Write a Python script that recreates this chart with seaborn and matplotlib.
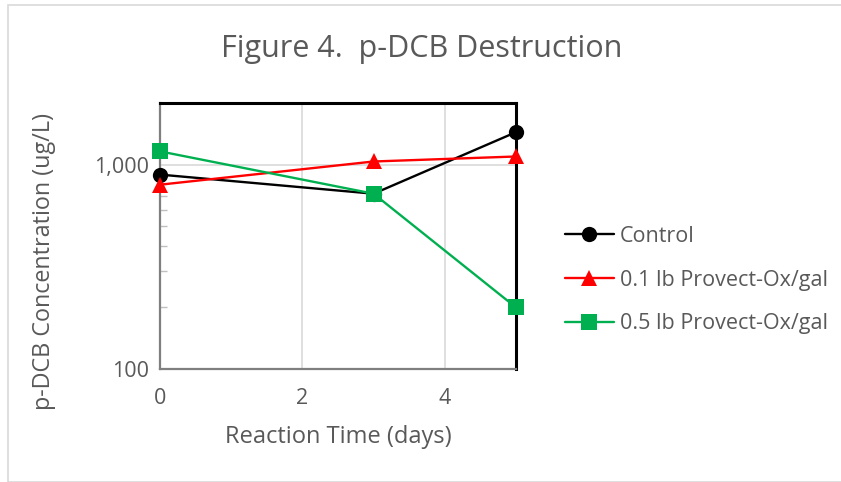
import matplotlib
matplotlib.use("Agg")
import matplotlib.pyplot as plt
import matplotlib.ticker as mticker
from matplotlib.patches import Rectangle
import seaborn as sns
import pandas as pd

days = [0, 3, 5]
control = [893, 720, 1440]
ox_01 = [797, 1035, 1095]
ox_05 = [1160, 720, 200]
series_names = ["Control", "0.1 lb Provect-Ox/gal", "0.5 lb Provect-Ox/gal"]
title = "Figure 4.  p-DCB Destruction"
xlabel = "Reaction Time (days)"
ylabel = "p-DCB Concentration (ug/L)"

df = pd.DataFrame({
    "day": days * 3,
    "conc": control + ox_01 + ox_05,
    "series": [series_names[0]] * 3 + [series_names[1]] * 3 + [series_names[2]] * 3,
})

sns.set_theme(style="white")
plt.rcParams["font.family"] = ["Open Sans", "DejaVu Sans"]
gray = "#595959"

fig = plt.figure(figsize=(8.41, 4.82), dpi=100)
ax = fig.add_axes([160/841, 1-369/482, (516-160)/841, (369-103)/482])

palette = {series_names[0]: "black", series_names[1]: "#FF0000", series_names[2]: "#00B050"}
markers = {series_names[0]: "o", series_names[1]: "^", series_names[2]: "s"}
sns.lineplot(data=df, x="day", y="conc", hue="series", style="series",
             palette=palette, markers=markers, dashes=False, linewidth=1.7,
             markersize=11, markeredgewidth=0, ax=ax, zorder=3, clip_on=False)

ax.set_yscale("log")
ax.set_ylim(100, 2000)
ax.set_xlim(0, 5)
ax.set_xticks([0, 2, 4])
ax.set_yticks([100, 1000])
ax.yaxis.set_major_formatter(mticker.FuncFormatter(lambda v, p: f"{int(v):,}"))
ax.yaxis.set_minor_locator(mticker.LogLocator(base=10, subs=range(2, 10)))
ax.yaxis.set_minor_formatter(mticker.NullFormatter())
ax.tick_params(axis="x", which="major", length=0, labelsize=15.5, labelcolor=gray, pad=14)
ax.tick_params(axis="y", which="major", length=0, labelsize=15.5, labelcolor=gray, pad=8)
ax.tick_params(axis="y", which="minor", direction="in", length=5, width=1, color="#BFBFBF", left=True)
ax.grid(True, axis="x", which="major", color="#D9D9D9", linewidth=1.2)
ax.grid(True, axis="y", which="major", color="#D9D9D9", linewidth=1.2)

for s in ["left", "bottom"]:
    ax.spines[s].set_color("#7F7F7F")
    ax.spines[s].set_linewidth(1.6)
for s in ["top", "right"]:
    ax.spines[s].set_color("black")
    ax.spines[s].set_linewidth(2.2)

ax.set_xlabel("")
ax.set_ylabel("")
fig.text(338/841, 1-437/482, xlabel, ha="center", va="center", fontsize=17, color=gray)
fig.text(44/841, 1-262/482, ylabel, ha="center", va="center", rotation=90, fontsize=16.8, color=gray)
fig.text(422/841, 1-49/482, title, ha="center", va="center", fontsize=22, color=gray)

leg = ax.legend(loc="center left", bbox_to_anchor=(556/841, 1-280/482),
                bbox_transform=fig.transFigure, frameon=False, fontsize=15.5,
                labelspacing=1.05, handlelength=2.3, handletextpad=0.25, borderaxespad=0)
for t in leg.get_texts():
    t.set_color(gray)

fig.patches.append(Rectangle((8/841, 0), 1.0, 1-5/482, transform=fig.transFigure,
                             fill=False, edgecolor="#D9D9D9", linewidth=1.2))

fig.savefig("out.png", dpi=100)
